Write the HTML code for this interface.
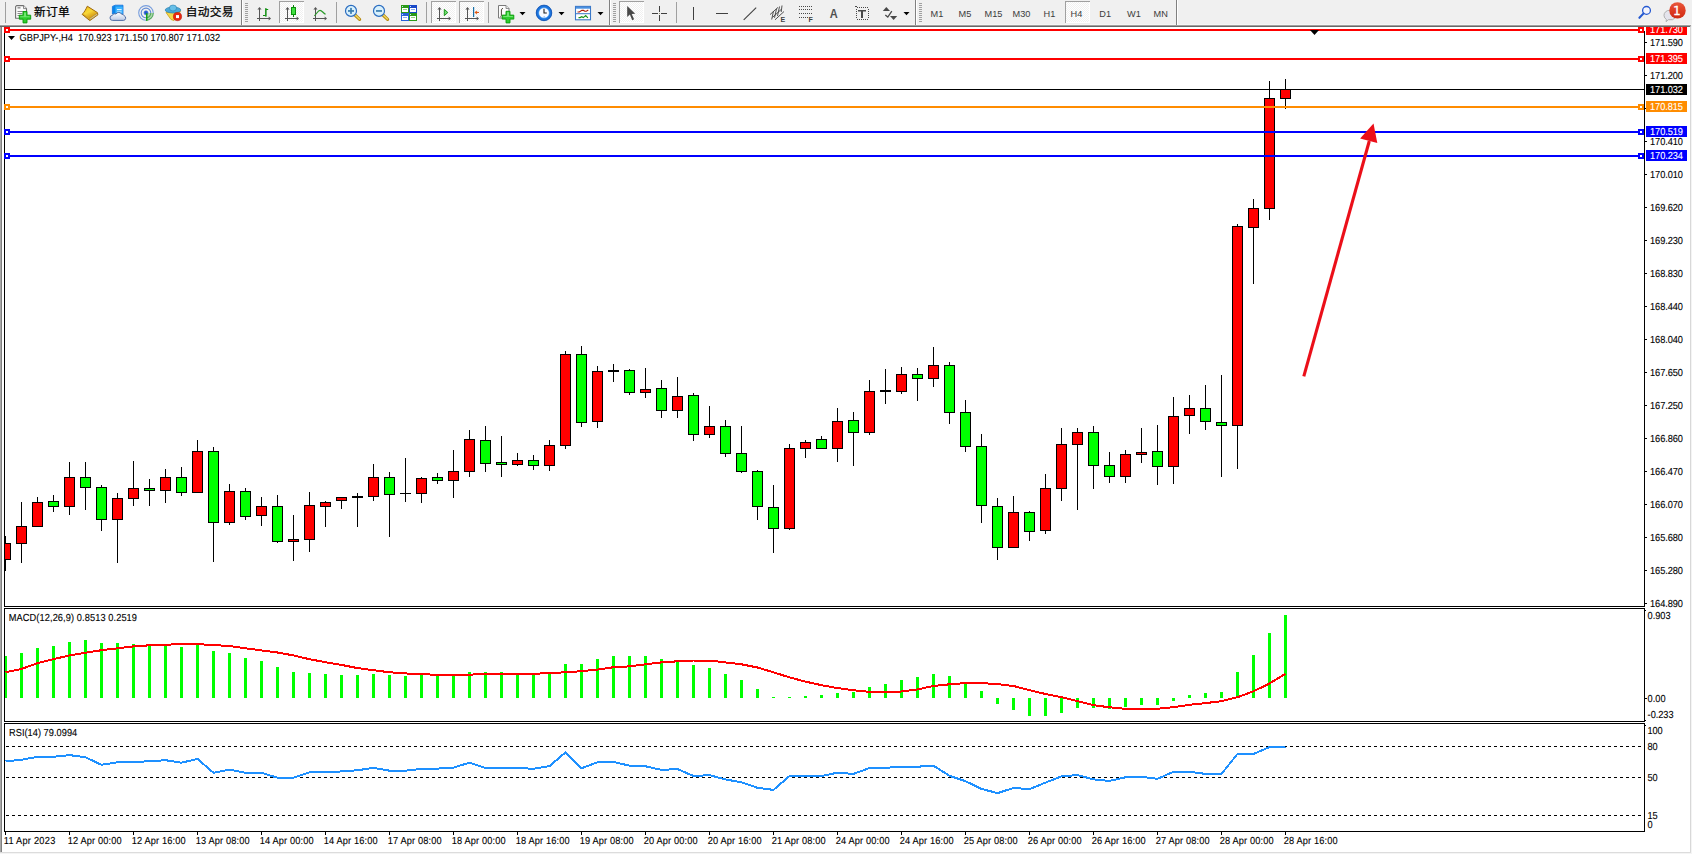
<!DOCTYPE html>
<html lang="zh-CN">
<head>
<meta charset="utf-8">
<title>GBPJPY-,H4</title>
<style>
html,body{margin:0;padding:0;background:#fff;}
body{width:1692px;height:854px;position:relative;overflow:hidden;font-family:"Liberation Sans","Noto Sans CJK SC",sans-serif;}
#tb{position:absolute;left:0;top:0;width:1692px;height:27px;}
svg text{white-space:pre;}
#chart text{text-rendering:geometricPrecision;stroke-width:0.1px;}
</style>
</head>
<body>
<svg id="chart" width="1692" height="854" viewBox="0 0 1692 854" style="position:absolute;left:0;top:0" shape-rendering="crispEdges" font-family="Liberation Sans, sans-serif" font-size="9.25px" fill="#000">
<rect x="0" y="27" width="1" height="825" fill="#a8a8a8"/><rect x="1" y="27" width="1" height="825" fill="#808080"/>
<rect x="0" y="852" width="1692" height="1" fill="#dcdcdc"/>
<rect x="0" y="853" width="1692" height="1" fill="#f4f4f4"/>
<rect x="1690" y="27" width="1" height="825" fill="#d8d8d8"/>
<rect x="1691" y="27" width="1" height="827" fill="#f4f4f4"/>
<rect x="4" y="27" width="1" height="580" fill="#000"/>
<rect x="1644" y="31" width="1" height="576" fill="#000"/>
<rect x="4" y="608" width="1" height="114" fill="#000"/>
<rect x="1644" y="608" width="1" height="114" fill="#000"/>
<rect x="4" y="723" width="1" height="109" fill="#000"/>
<rect x="1644" y="723" width="1" height="109" fill="#000"/>
<rect x="4" y="606" width="1641" height="1" fill="#000"/>
<rect x="4" y="608" width="1641" height="1" fill="#000"/>
<rect x="4" y="721" width="1641" height="1" fill="#000"/>
<rect x="4" y="723" width="1641" height="1" fill="#000"/>
<rect x="4" y="831" width="1641" height="1" fill="#000"/>
<rect x="1645" y="610" width="1" height="1" fill="#000"/>
<rect x="1645" y="720" width="1" height="1" fill="#000"/>
<rect x="1645" y="725" width="1" height="1" fill="#000"/>
<clipPath id="cp"><rect x="5" y="27" width="1639" height="579"/></clipPath>
<g clip-path="url(#cp)">
<rect x="5" y="89" width="1639" height="1" fill="#000"/>
<rect x="5" y="536" width="1" height="35" fill="#000"/>
<rect x="0" y="543" width="11" height="17" fill="#000"/>
<rect x="1" y="544" width="9" height="15" fill="#ff0000"/>
<rect x="21" y="502" width="1" height="61" fill="#000"/>
<rect x="16" y="526" width="11" height="18" fill="#000"/>
<rect x="17" y="527" width="9" height="16" fill="#ff0000"/>
<rect x="37" y="497" width="1" height="30" fill="#000"/>
<rect x="32" y="502" width="11" height="25" fill="#000"/>
<rect x="33" y="503" width="9" height="23" fill="#ff0000"/>
<rect x="53" y="495" width="1" height="17" fill="#000"/>
<rect x="48" y="501" width="11" height="6" fill="#000"/>
<rect x="49" y="502" width="9" height="4" fill="#00ff00"/>
<rect x="69" y="462" width="1" height="53" fill="#000"/>
<rect x="64" y="477" width="11" height="30" fill="#000"/>
<rect x="65" y="478" width="9" height="28" fill="#ff0000"/>
<rect x="85" y="462" width="1" height="48" fill="#000"/>
<rect x="80" y="477" width="11" height="11" fill="#000"/>
<rect x="81" y="478" width="9" height="9" fill="#00ff00"/>
<rect x="101" y="485" width="1" height="46" fill="#000"/>
<rect x="96" y="487" width="11" height="33" fill="#000"/>
<rect x="97" y="488" width="9" height="31" fill="#00ff00"/>
<rect x="117" y="493" width="1" height="70" fill="#000"/>
<rect x="112" y="498" width="11" height="22" fill="#000"/>
<rect x="113" y="499" width="9" height="20" fill="#ff0000"/>
<rect x="133" y="461" width="1" height="45" fill="#000"/>
<rect x="128" y="488" width="11" height="11" fill="#000"/>
<rect x="129" y="489" width="9" height="9" fill="#ff0000"/>
<rect x="149" y="479" width="1" height="27" fill="#000"/>
<rect x="144" y="488" width="11" height="3" fill="#000"/>
<rect x="145" y="489" width="9" height="1" fill="#00ff00"/>
<rect x="165" y="469" width="1" height="34" fill="#000"/>
<rect x="160" y="477" width="11" height="14" fill="#000"/>
<rect x="161" y="478" width="9" height="12" fill="#ff0000"/>
<rect x="181" y="467" width="1" height="29" fill="#000"/>
<rect x="176" y="477" width="11" height="16" fill="#000"/>
<rect x="177" y="478" width="9" height="14" fill="#00ff00"/>
<rect x="197" y="440" width="1" height="53" fill="#000"/>
<rect x="192" y="451" width="11" height="42" fill="#000"/>
<rect x="193" y="452" width="9" height="40" fill="#ff0000"/>
<rect x="213" y="447" width="1" height="115" fill="#000"/>
<rect x="208" y="451" width="11" height="72" fill="#000"/>
<rect x="209" y="452" width="9" height="70" fill="#00ff00"/>
<rect x="229" y="484" width="1" height="41" fill="#000"/>
<rect x="224" y="491" width="11" height="32" fill="#000"/>
<rect x="225" y="492" width="9" height="30" fill="#ff0000"/>
<rect x="245" y="488" width="1" height="32" fill="#000"/>
<rect x="240" y="491" width="11" height="26" fill="#000"/>
<rect x="241" y="492" width="9" height="24" fill="#00ff00"/>
<rect x="261" y="497" width="1" height="29" fill="#000"/>
<rect x="256" y="506" width="11" height="10" fill="#000"/>
<rect x="257" y="507" width="9" height="8" fill="#ff0000"/>
<rect x="277" y="495" width="1" height="48" fill="#000"/>
<rect x="272" y="506" width="11" height="36" fill="#000"/>
<rect x="273" y="507" width="9" height="34" fill="#00ff00"/>
<rect x="293" y="515" width="1" height="46" fill="#000"/>
<rect x="288" y="539" width="11" height="3" fill="#000"/>
<rect x="289" y="540" width="9" height="1" fill="#ff0000"/>
<rect x="309" y="492" width="1" height="60" fill="#000"/>
<rect x="304" y="505" width="11" height="35" fill="#000"/>
<rect x="305" y="506" width="9" height="33" fill="#ff0000"/>
<rect x="325" y="501" width="1" height="26" fill="#000"/>
<rect x="320" y="502" width="11" height="5" fill="#000"/>
<rect x="321" y="503" width="9" height="3" fill="#ff0000"/>
<rect x="341" y="497" width="1" height="12" fill="#000"/>
<rect x="336" y="497" width="11" height="4" fill="#000"/>
<rect x="337" y="498" width="9" height="2" fill="#ff0000"/>
<rect x="357" y="493" width="1" height="34" fill="#000"/>
<rect x="352" y="496" width="11" height="2" fill="#000"/>
<rect x="373" y="464" width="1" height="37" fill="#000"/>
<rect x="368" y="477" width="11" height="20" fill="#000"/>
<rect x="369" y="478" width="9" height="18" fill="#ff0000"/>
<rect x="389" y="472" width="1" height="65" fill="#000"/>
<rect x="384" y="477" width="11" height="18" fill="#000"/>
<rect x="385" y="478" width="9" height="16" fill="#00ff00"/>
<rect x="405" y="458" width="1" height="44" fill="#000"/>
<rect x="400" y="493" width="11" height="1" fill="#000"/>
<rect x="421" y="477" width="1" height="26" fill="#000"/>
<rect x="416" y="478" width="11" height="16" fill="#000"/>
<rect x="417" y="479" width="9" height="14" fill="#ff0000"/>
<rect x="437" y="473" width="1" height="11" fill="#000"/>
<rect x="432" y="477" width="11" height="4" fill="#000"/>
<rect x="433" y="478" width="9" height="2" fill="#00ff00"/>
<rect x="453" y="450" width="1" height="48" fill="#000"/>
<rect x="448" y="471" width="11" height="10" fill="#000"/>
<rect x="449" y="472" width="9" height="8" fill="#ff0000"/>
<rect x="469" y="430" width="1" height="47" fill="#000"/>
<rect x="464" y="439" width="11" height="33" fill="#000"/>
<rect x="465" y="440" width="9" height="31" fill="#ff0000"/>
<rect x="485" y="426" width="1" height="46" fill="#000"/>
<rect x="480" y="440" width="11" height="24" fill="#000"/>
<rect x="481" y="441" width="9" height="22" fill="#00ff00"/>
<rect x="501" y="436" width="1" height="41" fill="#000"/>
<rect x="496" y="462" width="11" height="3" fill="#000"/>
<rect x="497" y="463" width="9" height="1" fill="#00ff00"/>
<rect x="517" y="453" width="1" height="13" fill="#000"/>
<rect x="512" y="460" width="11" height="5" fill="#000"/>
<rect x="513" y="461" width="9" height="3" fill="#ff0000"/>
<rect x="533" y="455" width="1" height="15" fill="#000"/>
<rect x="528" y="460" width="11" height="6" fill="#000"/>
<rect x="529" y="461" width="9" height="4" fill="#00ff00"/>
<rect x="549" y="440" width="1" height="31" fill="#000"/>
<rect x="544" y="445" width="11" height="21" fill="#000"/>
<rect x="545" y="446" width="9" height="19" fill="#ff0000"/>
<rect x="565" y="351" width="1" height="98" fill="#000"/>
<rect x="560" y="354" width="11" height="92" fill="#000"/>
<rect x="561" y="355" width="9" height="90" fill="#ff0000"/>
<rect x="581" y="346" width="1" height="81" fill="#000"/>
<rect x="576" y="354" width="11" height="69" fill="#000"/>
<rect x="577" y="355" width="9" height="67" fill="#00ff00"/>
<rect x="597" y="366" width="1" height="62" fill="#000"/>
<rect x="592" y="371" width="11" height="51" fill="#000"/>
<rect x="593" y="372" width="9" height="49" fill="#ff0000"/>
<rect x="613" y="364" width="1" height="18" fill="#000"/>
<rect x="608" y="370" width="11" height="2" fill="#000"/>
<rect x="629" y="369" width="1" height="26" fill="#000"/>
<rect x="624" y="370" width="11" height="23" fill="#000"/>
<rect x="625" y="371" width="9" height="21" fill="#00ff00"/>
<rect x="645" y="368" width="1" height="30" fill="#000"/>
<rect x="640" y="389" width="11" height="4" fill="#000"/>
<rect x="641" y="390" width="9" height="2" fill="#ff0000"/>
<rect x="661" y="380" width="1" height="38" fill="#000"/>
<rect x="656" y="388" width="11" height="23" fill="#000"/>
<rect x="657" y="389" width="9" height="21" fill="#00ff00"/>
<rect x="677" y="377" width="1" height="41" fill="#000"/>
<rect x="672" y="396" width="11" height="15" fill="#000"/>
<rect x="673" y="397" width="9" height="13" fill="#ff0000"/>
<rect x="693" y="393" width="1" height="48" fill="#000"/>
<rect x="688" y="395" width="11" height="40" fill="#000"/>
<rect x="689" y="396" width="9" height="38" fill="#00ff00"/>
<rect x="709" y="406" width="1" height="32" fill="#000"/>
<rect x="704" y="426" width="11" height="9" fill="#000"/>
<rect x="705" y="427" width="9" height="7" fill="#ff0000"/>
<rect x="725" y="420" width="1" height="37" fill="#000"/>
<rect x="720" y="426" width="11" height="28" fill="#000"/>
<rect x="721" y="427" width="9" height="26" fill="#00ff00"/>
<rect x="741" y="426" width="1" height="47" fill="#000"/>
<rect x="736" y="453" width="11" height="19" fill="#000"/>
<rect x="737" y="454" width="9" height="17" fill="#00ff00"/>
<rect x="757" y="470" width="1" height="50" fill="#000"/>
<rect x="752" y="471" width="11" height="36" fill="#000"/>
<rect x="753" y="472" width="9" height="34" fill="#00ff00"/>
<rect x="773" y="485" width="1" height="68" fill="#000"/>
<rect x="768" y="507" width="11" height="22" fill="#000"/>
<rect x="769" y="508" width="9" height="20" fill="#00ff00"/>
<rect x="789" y="444" width="1" height="86" fill="#000"/>
<rect x="784" y="448" width="11" height="81" fill="#000"/>
<rect x="785" y="449" width="9" height="79" fill="#ff0000"/>
<rect x="805" y="440" width="1" height="18" fill="#000"/>
<rect x="800" y="442" width="11" height="7" fill="#000"/>
<rect x="801" y="443" width="9" height="5" fill="#ff0000"/>
<rect x="821" y="436" width="1" height="13" fill="#000"/>
<rect x="816" y="439" width="11" height="10" fill="#000"/>
<rect x="817" y="440" width="9" height="8" fill="#00ff00"/>
<rect x="837" y="408" width="1" height="54" fill="#000"/>
<rect x="832" y="421" width="11" height="28" fill="#000"/>
<rect x="833" y="422" width="9" height="26" fill="#ff0000"/>
<rect x="853" y="412" width="1" height="54" fill="#000"/>
<rect x="848" y="420" width="11" height="13" fill="#000"/>
<rect x="849" y="421" width="9" height="11" fill="#00ff00"/>
<rect x="869" y="380" width="1" height="55" fill="#000"/>
<rect x="864" y="391" width="11" height="42" fill="#000"/>
<rect x="865" y="392" width="9" height="40" fill="#ff0000"/>
<rect x="885" y="369" width="1" height="35" fill="#000"/>
<rect x="880" y="390" width="11" height="2" fill="#000"/>
<rect x="901" y="367" width="1" height="27" fill="#000"/>
<rect x="896" y="374" width="11" height="18" fill="#000"/>
<rect x="897" y="375" width="9" height="16" fill="#ff0000"/>
<rect x="917" y="368" width="1" height="33" fill="#000"/>
<rect x="912" y="374" width="11" height="5" fill="#000"/>
<rect x="913" y="375" width="9" height="3" fill="#00ff00"/>
<rect x="933" y="347" width="1" height="40" fill="#000"/>
<rect x="928" y="365" width="11" height="14" fill="#000"/>
<rect x="929" y="366" width="9" height="12" fill="#ff0000"/>
<rect x="949" y="362" width="1" height="62" fill="#000"/>
<rect x="944" y="365" width="11" height="48" fill="#000"/>
<rect x="945" y="366" width="9" height="46" fill="#00ff00"/>
<rect x="965" y="400" width="1" height="52" fill="#000"/>
<rect x="960" y="412" width="11" height="35" fill="#000"/>
<rect x="961" y="413" width="9" height="33" fill="#00ff00"/>
<rect x="981" y="434" width="1" height="89" fill="#000"/>
<rect x="976" y="446" width="11" height="60" fill="#000"/>
<rect x="977" y="447" width="9" height="58" fill="#00ff00"/>
<rect x="997" y="498" width="1" height="62" fill="#000"/>
<rect x="992" y="506" width="11" height="42" fill="#000"/>
<rect x="993" y="507" width="9" height="40" fill="#00ff00"/>
<rect x="1013" y="496" width="1" height="52" fill="#000"/>
<rect x="1008" y="512" width="11" height="36" fill="#000"/>
<rect x="1009" y="513" width="9" height="34" fill="#ff0000"/>
<rect x="1029" y="511" width="1" height="30" fill="#000"/>
<rect x="1024" y="512" width="11" height="20" fill="#000"/>
<rect x="1025" y="513" width="9" height="18" fill="#00ff00"/>
<rect x="1045" y="474" width="1" height="60" fill="#000"/>
<rect x="1040" y="488" width="11" height="43" fill="#000"/>
<rect x="1041" y="489" width="9" height="41" fill="#ff0000"/>
<rect x="1061" y="428" width="1" height="73" fill="#000"/>
<rect x="1056" y="444" width="11" height="45" fill="#000"/>
<rect x="1057" y="445" width="9" height="43" fill="#ff0000"/>
<rect x="1077" y="428" width="1" height="82" fill="#000"/>
<rect x="1072" y="432" width="11" height="13" fill="#000"/>
<rect x="1073" y="433" width="9" height="11" fill="#ff0000"/>
<rect x="1093" y="426" width="1" height="63" fill="#000"/>
<rect x="1088" y="432" width="11" height="34" fill="#000"/>
<rect x="1089" y="433" width="9" height="32" fill="#00ff00"/>
<rect x="1109" y="452" width="1" height="31" fill="#000"/>
<rect x="1104" y="465" width="11" height="12" fill="#000"/>
<rect x="1105" y="466" width="9" height="10" fill="#00ff00"/>
<rect x="1125" y="450" width="1" height="33" fill="#000"/>
<rect x="1120" y="454" width="11" height="23" fill="#000"/>
<rect x="1121" y="455" width="9" height="21" fill="#ff0000"/>
<rect x="1141" y="428" width="1" height="35" fill="#000"/>
<rect x="1136" y="452" width="11" height="3" fill="#000"/>
<rect x="1137" y="453" width="9" height="1" fill="#ff0000"/>
<rect x="1157" y="425" width="1" height="60" fill="#000"/>
<rect x="1152" y="451" width="11" height="16" fill="#000"/>
<rect x="1153" y="452" width="9" height="14" fill="#00ff00"/>
<rect x="1173" y="397" width="1" height="87" fill="#000"/>
<rect x="1168" y="416" width="11" height="51" fill="#000"/>
<rect x="1169" y="417" width="9" height="49" fill="#ff0000"/>
<rect x="1189" y="395" width="1" height="39" fill="#000"/>
<rect x="1184" y="408" width="11" height="8" fill="#000"/>
<rect x="1185" y="409" width="9" height="6" fill="#ff0000"/>
<rect x="1205" y="385" width="1" height="45" fill="#000"/>
<rect x="1200" y="408" width="11" height="14" fill="#000"/>
<rect x="1201" y="409" width="9" height="12" fill="#00ff00"/>
<rect x="1221" y="375" width="1" height="102" fill="#000"/>
<rect x="1216" y="422" width="11" height="4" fill="#000"/>
<rect x="1217" y="423" width="9" height="2" fill="#00ff00"/>
<rect x="1237" y="224" width="1" height="245" fill="#000"/>
<rect x="1232" y="226" width="11" height="200" fill="#000"/>
<rect x="1233" y="227" width="9" height="198" fill="#ff0000"/>
<rect x="1253" y="199" width="1" height="85" fill="#000"/>
<rect x="1248" y="208" width="11" height="20" fill="#000"/>
<rect x="1249" y="209" width="9" height="18" fill="#ff0000"/>
<rect x="1269" y="81" width="1" height="139" fill="#000"/>
<rect x="1264" y="98" width="11" height="111" fill="#000"/>
<rect x="1265" y="99" width="9" height="109" fill="#ff0000"/>
<rect x="1285" y="79" width="1" height="30" fill="#000"/>
<rect x="1280" y="89" width="11" height="10" fill="#000"/>
<rect x="1281" y="90" width="9" height="8" fill="#ff0000"/>
</g>
<rect x="5" y="29" width="1639" height="2" fill="#ff0000"/><rect x="4" y="27" width="6" height="6" fill="#ff0000"/><rect x="6" y="29" width="2" height="2" fill="#fff"/><rect x="1638" y="27" width="6" height="6" fill="#ff0000"/><rect x="1640" y="29" width="2" height="2" fill="#fff"/>
<rect x="5" y="58" width="1639" height="2" fill="#ff0000"/><rect x="4" y="56" width="6" height="6" fill="#ff0000"/><rect x="6" y="58" width="2" height="2" fill="#fff"/><rect x="1638" y="56" width="6" height="6" fill="#ff0000"/><rect x="1640" y="58" width="2" height="2" fill="#fff"/>
<rect x="5" y="106" width="1639" height="2" fill="#ff8c00"/><rect x="4" y="104" width="6" height="6" fill="#ff8c00"/><rect x="6" y="106" width="2" height="2" fill="#fff"/><rect x="1638" y="104" width="6" height="6" fill="#ff8c00"/><rect x="1640" y="106" width="2" height="2" fill="#fff"/>
<rect x="5" y="131" width="1639" height="2" fill="#0000ff"/><rect x="4" y="129" width="6" height="6" fill="#0000ff"/><rect x="6" y="131" width="2" height="2" fill="#fff"/><rect x="1638" y="129" width="6" height="6" fill="#0000ff"/><rect x="1640" y="131" width="2" height="2" fill="#fff"/>
<rect x="5" y="155" width="1639" height="2" fill="#0000ff"/><rect x="4" y="153" width="6" height="6" fill="#0000ff"/><rect x="6" y="155" width="2" height="2" fill="#fff"/><rect x="1638" y="153" width="6" height="6" fill="#0000ff"/><rect x="1640" y="155" width="2" height="2" fill="#fff"/>
<rect x="1644" y="33" width="1" height="23" fill="#000"/>
<polygon points="1310,30 1319,30 1314.5,35" fill="#000" shape-rendering="auto"/>
<rect x="1645" y="42" width="2" height="1" fill="#000"/>
<text transform="translate(1650.0 46) scale(1 1.0995)" textLength="33" lengthAdjust="spacing" stroke="#000">171.590</text>
<rect x="1645" y="75" width="2" height="1" fill="#000"/>
<text transform="translate(1650.0 79) scale(1 1.0995)" textLength="33" lengthAdjust="spacing" stroke="#000">171.200</text>
<rect x="1645" y="108" width="2" height="1" fill="#000"/>
<rect x="1645" y="141" width="2" height="1" fill="#000"/>
<text transform="translate(1650.0 145) scale(1 1.0995)" textLength="33" lengthAdjust="spacing" stroke="#000">170.410</text>
<rect x="1645" y="174" width="2" height="1" fill="#000"/>
<text transform="translate(1650.0 178) scale(1 1.0995)" textLength="33" lengthAdjust="spacing" stroke="#000">170.010</text>
<rect x="1645" y="207" width="2" height="1" fill="#000"/>
<text transform="translate(1650.0 211) scale(1 1.0995)" textLength="33" lengthAdjust="spacing" stroke="#000">169.620</text>
<rect x="1645" y="240" width="2" height="1" fill="#000"/>
<text transform="translate(1650.0 244) scale(1 1.0995)" textLength="33" lengthAdjust="spacing" stroke="#000">169.230</text>
<rect x="1645" y="273" width="2" height="1" fill="#000"/>
<text transform="translate(1650.0 277) scale(1 1.0995)" textLength="33" lengthAdjust="spacing" stroke="#000">168.830</text>
<rect x="1645" y="306" width="2" height="1" fill="#000"/>
<text transform="translate(1650.0 310) scale(1 1.0995)" textLength="33" lengthAdjust="spacing" stroke="#000">168.440</text>
<rect x="1645" y="339" width="2" height="1" fill="#000"/>
<text transform="translate(1650.0 343) scale(1 1.0995)" textLength="33" lengthAdjust="spacing" stroke="#000">168.040</text>
<rect x="1645" y="372" width="2" height="1" fill="#000"/>
<text transform="translate(1650.0 376) scale(1 1.0995)" textLength="33" lengthAdjust="spacing" stroke="#000">167.650</text>
<rect x="1645" y="405" width="2" height="1" fill="#000"/>
<text transform="translate(1650.0 409) scale(1 1.0995)" textLength="33" lengthAdjust="spacing" stroke="#000">167.250</text>
<rect x="1645" y="438" width="2" height="1" fill="#000"/>
<text transform="translate(1650.0 442) scale(1 1.0995)" textLength="33" lengthAdjust="spacing" stroke="#000">166.860</text>
<rect x="1645" y="471" width="2" height="1" fill="#000"/>
<text transform="translate(1650.0 475) scale(1 1.0995)" textLength="33" lengthAdjust="spacing" stroke="#000">166.470</text>
<rect x="1645" y="504" width="2" height="1" fill="#000"/>
<text transform="translate(1650.0 508) scale(1 1.0995)" textLength="33" lengthAdjust="spacing" stroke="#000">166.070</text>
<rect x="1645" y="537" width="2" height="1" fill="#000"/>
<text transform="translate(1650.0 541) scale(1 1.0995)" textLength="33" lengthAdjust="spacing" stroke="#000">165.680</text>
<rect x="1645" y="570" width="2" height="1" fill="#000"/>
<text transform="translate(1650.0 574) scale(1 1.0995)" textLength="33" lengthAdjust="spacing" stroke="#000">165.280</text>
<rect x="1645" y="603" width="2" height="1" fill="#000"/>
<text transform="translate(1650.0 607) scale(1 1.0995)" textLength="33" lengthAdjust="spacing" stroke="#000">164.890</text>
<clipPath id="cp2"><rect x="1645" y="27" width="47" height="600"/></clipPath><g clip-path="url(#cp2)">
<rect x="1646" y="24" width="41" height="11" fill="#ff0000"/><text transform="translate(1650.0 33) scale(1 1.0995)" textLength="33" lengthAdjust="spacing" fill="#fff" stroke="#fff">171.730</text>
<rect x="1646" y="53" width="41" height="11" fill="#ff0000"/><text transform="translate(1650.0 62) scale(1 1.0995)" textLength="33" lengthAdjust="spacing" fill="#fff" stroke="#fff">171.395</text>
<rect x="1646" y="84" width="41" height="11" fill="#000"/><text transform="translate(1650.0 93) scale(1 1.0995)" textLength="33" lengthAdjust="spacing" fill="#fff" stroke="#fff">171.032</text>
<rect x="1646" y="101" width="41" height="11" fill="#ff8c00"/><text transform="translate(1650.0 110) scale(1 1.0995)" textLength="33" lengthAdjust="spacing" fill="#fff" stroke="#fff">170.815</text>
<rect x="1646" y="126" width="41" height="11" fill="#0000ff"/><text transform="translate(1650.0 135) scale(1 1.0995)" textLength="33" lengthAdjust="spacing" fill="#fff" stroke="#fff">170.519</text>
<rect x="1646" y="150" width="41" height="11" fill="#0000ff"/><text transform="translate(1650.0 159) scale(1 1.0995)" textLength="33" lengthAdjust="spacing" fill="#fff" stroke="#fff">170.234</text>
</g>
<polygon points="8,36 15,36 11.5,40" fill="#000" shape-rendering="auto"/>
<text transform="translate(19.6 41) scale(1 1.0995)" textLength="200.6" lengthAdjust="spacing" stroke="#000">GBPJPY-,H4&#160;&#160;170.923 171.150 170.807 171.032</text>
<text transform="translate(8.8 621) scale(1 1.0995)" textLength="128.2" lengthAdjust="spacing" stroke="#000">MACD(12,26,9) 0.8513 0.2519</text>
<text transform="translate(9 736) scale(1 1.0995)" textLength="68.2" lengthAdjust="spacing" stroke="#000">RSI(14) 79.0994</text>
<rect x="5" y="656" width="2" height="42" fill="#00ff00"/>
<rect x="20" y="653" width="3" height="45" fill="#00ff00"/>
<rect x="36" y="648" width="3" height="50" fill="#00ff00"/>
<rect x="52" y="646" width="3" height="52" fill="#00ff00"/>
<rect x="68" y="642" width="3" height="56" fill="#00ff00"/>
<rect x="84" y="640" width="3" height="58" fill="#00ff00"/>
<rect x="100" y="643" width="3" height="55" fill="#00ff00"/>
<rect x="116" y="643" width="3" height="55" fill="#00ff00"/>
<rect x="132" y="644" width="3" height="54" fill="#00ff00"/>
<rect x="148" y="644" width="3" height="54" fill="#00ff00"/>
<rect x="164" y="645" width="3" height="53" fill="#00ff00"/>
<rect x="180" y="647" width="3" height="51" fill="#00ff00"/>
<rect x="196" y="645" width="3" height="53" fill="#00ff00"/>
<rect x="212" y="651" width="3" height="47" fill="#00ff00"/>
<rect x="228" y="653" width="3" height="45" fill="#00ff00"/>
<rect x="244" y="658" width="3" height="40" fill="#00ff00"/>
<rect x="260" y="661" width="3" height="37" fill="#00ff00"/>
<rect x="276" y="667" width="3" height="31" fill="#00ff00"/>
<rect x="292" y="672" width="3" height="26" fill="#00ff00"/>
<rect x="308" y="673" width="3" height="25" fill="#00ff00"/>
<rect x="324" y="674" width="3" height="24" fill="#00ff00"/>
<rect x="340" y="675" width="3" height="23" fill="#00ff00"/>
<rect x="356" y="675" width="3" height="23" fill="#00ff00"/>
<rect x="372" y="674" width="3" height="24" fill="#00ff00"/>
<rect x="388" y="675" width="3" height="23" fill="#00ff00"/>
<rect x="404" y="676" width="3" height="22" fill="#00ff00"/>
<rect x="420" y="675" width="3" height="23" fill="#00ff00"/>
<rect x="436" y="676" width="3" height="22" fill="#00ff00"/>
<rect x="452" y="676" width="3" height="22" fill="#00ff00"/>
<rect x="468" y="672" width="3" height="26" fill="#00ff00"/>
<rect x="484" y="672" width="3" height="26" fill="#00ff00"/>
<rect x="500" y="672" width="3" height="26" fill="#00ff00"/>
<rect x="516" y="674" width="3" height="24" fill="#00ff00"/>
<rect x="532" y="674" width="3" height="24" fill="#00ff00"/>
<rect x="548" y="673" width="3" height="25" fill="#00ff00"/>
<rect x="564" y="664" width="3" height="34" fill="#00ff00"/>
<rect x="580" y="664" width="3" height="34" fill="#00ff00"/>
<rect x="596" y="659" width="3" height="39" fill="#00ff00"/>
<rect x="612" y="656" width="3" height="42" fill="#00ff00"/>
<rect x="628" y="656" width="3" height="42" fill="#00ff00"/>
<rect x="644" y="656" width="3" height="42" fill="#00ff00"/>
<rect x="660" y="659" width="3" height="39" fill="#00ff00"/>
<rect x="676" y="660" width="3" height="38" fill="#00ff00"/>
<rect x="692" y="665" width="3" height="33" fill="#00ff00"/>
<rect x="708" y="668" width="3" height="30" fill="#00ff00"/>
<rect x="724" y="674" width="3" height="24" fill="#00ff00"/>
<rect x="740" y="680" width="3" height="18" fill="#00ff00"/>
<rect x="756" y="689" width="3" height="9" fill="#00ff00"/>
<rect x="772" y="697" width="3" height="1" fill="#00ff00"/>
<rect x="788" y="697" width="3" height="1" fill="#00ff00"/>
<rect x="804" y="696" width="3" height="2" fill="#00ff00"/>
<rect x="820" y="695" width="3" height="3" fill="#00ff00"/>
<rect x="836" y="693" width="3" height="5" fill="#00ff00"/>
<rect x="852" y="692" width="3" height="6" fill="#00ff00"/>
<rect x="868" y="687" width="3" height="11" fill="#00ff00"/>
<rect x="884" y="684" width="3" height="14" fill="#00ff00"/>
<rect x="900" y="680" width="3" height="18" fill="#00ff00"/>
<rect x="916" y="677" width="3" height="21" fill="#00ff00"/>
<rect x="932" y="674" width="3" height="24" fill="#00ff00"/>
<rect x="948" y="676" width="3" height="22" fill="#00ff00"/>
<rect x="964" y="682" width="3" height="16" fill="#00ff00"/>
<rect x="980" y="691" width="3" height="7" fill="#00ff00"/>
<rect x="996" y="698" width="3" height="6" fill="#00ff00"/>
<rect x="1012" y="698" width="3" height="12" fill="#00ff00"/>
<rect x="1028" y="698" width="3" height="18" fill="#00ff00"/>
<rect x="1044" y="698" width="3" height="18" fill="#00ff00"/>
<rect x="1060" y="698" width="3" height="15" fill="#00ff00"/>
<rect x="1076" y="698" width="3" height="10" fill="#00ff00"/>
<rect x="1092" y="698" width="3" height="10" fill="#00ff00"/>
<rect x="1108" y="698" width="3" height="11" fill="#00ff00"/>
<rect x="1124" y="698" width="3" height="9" fill="#00ff00"/>
<rect x="1140" y="698" width="3" height="7" fill="#00ff00"/>
<rect x="1156" y="698" width="3" height="7" fill="#00ff00"/>
<rect x="1172" y="698" width="3" height="3" fill="#00ff00"/>
<rect x="1188" y="695" width="3" height="3" fill="#00ff00"/>
<rect x="1204" y="693" width="3" height="5" fill="#00ff00"/>
<rect x="1220" y="692" width="3" height="6" fill="#00ff00"/>
<rect x="1236" y="672" width="3" height="26" fill="#00ff00"/>
<rect x="1252" y="655" width="3" height="43" fill="#00ff00"/>
<rect x="1268" y="633" width="3" height="65" fill="#00ff00"/>
<rect x="1284" y="615" width="3" height="83" fill="#00ff00"/>
<polyline points="5.5,672.3 21.5,668.9 37.5,663.2 53.5,659.2 69.5,655.4 85.5,652.7 101.5,650.2 117.5,648.3 133.5,646.4 149.5,645.3 165.5,644.7 181.5,644.1 197.5,644.1 213.5,645.1 229.5,646.0 245.5,648.3 261.5,650.4 277.5,652.5 293.5,655.4 309.5,659.2 325.5,662.2 341.5,664.9 357.5,668.1 373.5,670.2 389.5,672.3 405.5,673.4 421.5,674.4 437.5,674.6 453.5,674.6 469.5,674.6 485.5,674.2 501.5,673.8 517.5,673.8 533.5,673.8 549.5,673.1 565.5,672.3 581.5,671.2 597.5,669.6 613.5,667.2 629.5,666.4 645.5,664.3 661.5,662.4 677.5,661.3 693.5,660.5 709.5,660.5 725.5,662.4 741.5,664.3 757.5,667.5 773.5,672.3 789.5,677.4 805.5,681.6 821.5,685.2 837.5,688.1 853.5,690.2 869.5,691.9 885.5,691.9 901.5,691.5 917.5,689.4 933.5,686.0 949.5,684.3 965.5,683.1 981.5,683.1 997.5,684.1 1013.5,686.0 1029.5,690.2 1045.5,694.0 1061.5,697.2 1077.5,701.2 1093.5,705.2 1109.5,707.3 1125.5,708.8 1141.5,708.8 1157.5,708.8 1173.5,707.1 1189.5,704.8 1205.5,703.1 1221.5,701.2 1237.5,697.2 1253.5,691.3 1269.5,683.5 1285.5,673.8" fill="none" stroke="#ff0000" stroke-width="2"/>
<text transform="translate(1647.6 619) scale(1 1.0995)" textLength="23" lengthAdjust="spacing" stroke="#000">0.903</text>
<rect x="1645" y="698" width="2" height="1" fill="#000"/>
<text transform="translate(1647.6 702) scale(1 1.0995)" textLength="18" lengthAdjust="spacing" stroke="#000">0.00</text>
<text transform="translate(1647.6 718) scale(1 1.0995)" textLength="26" lengthAdjust="spacing" stroke="#000">-0.233</text>
<line x1="6" y1="746.5" x2="1642" y2="746.5" stroke="#000" stroke-width="1" stroke-dasharray="3 3"/>
<line x1="6" y1="777.5" x2="1642" y2="777.5" stroke="#000" stroke-width="1" stroke-dasharray="3 3"/>
<line x1="6" y1="815.5" x2="1642" y2="815.5" stroke="#000" stroke-width="1" stroke-dasharray="3 3"/>
<polyline points="5.5,761.3 21.5,759.8 37.5,756.8 53.5,756.8 69.5,755.1 85.5,757.3 101.5,764.8 117.5,762.3 133.5,761.9 149.5,761.3 165.5,760.2 181.5,762.7 197.5,758.9 213.5,772.8 229.5,769.7 245.5,772.8 261.5,772.8 277.5,777.7 293.5,777.7 309.5,772.4 325.5,772.4 341.5,771.4 357.5,770.3 373.5,767.8 389.5,770.7 405.5,770.7 421.5,768.8 437.5,768.6 453.5,767.6 469.5,762.7 485.5,768.0 501.5,768.0 517.5,768.0 533.5,768.8 549.5,766.1 565.5,752.4 581.5,768.2 597.5,762.3 613.5,761.9 629.5,765.7 645.5,766.3 661.5,769.9 677.5,769.1 693.5,776.0 709.5,775.2 725.5,779.4 741.5,782.3 757.5,787.8 773.5,789.9 789.5,776.0 805.5,776.0 821.5,776.0 837.5,772.7 853.5,773.9 869.5,768.0 885.5,767.8 901.5,766.7 917.5,766.7 933.5,765.7 949.5,775.8 965.5,781.2 981.5,788.9 997.5,793.1 1013.5,788.0 1029.5,789.1 1045.5,782.6 1061.5,776.4 1077.5,775.0 1093.5,779.4 1109.5,780.9 1125.5,777.3 1141.5,776.9 1157.5,778.8 1173.5,771.8 1189.5,771.8 1205.5,773.9 1221.5,773.9 1237.5,753.9 1253.5,753.9 1269.5,747.1 1285.5,746.7" fill="none" stroke="#1e90ff" stroke-width="2"/>
<text transform="translate(1647.6 734) scale(1 1.0995)" textLength="15" lengthAdjust="spacing" stroke="#000">100</text>
<text transform="translate(1647.6 750) scale(1 1.0995)" textLength="10" lengthAdjust="spacing" stroke="#000">80</text>
<text transform="translate(1647.6 781) scale(1 1.0995)" textLength="10" lengthAdjust="spacing" stroke="#000">50</text>
<text transform="translate(1647.6 819) scale(1 1.0995)" textLength="10" lengthAdjust="spacing" stroke="#000">15</text>
<text transform="translate(1647.6 828) scale(1 1.0995)" textLength="5" lengthAdjust="spacing" stroke="#000">0</text>
<rect x="5" y="832" width="1" height="3" fill="#000"/>
<text transform="translate(3.7 844) scale(1 1.0995)" textLength="51.6" lengthAdjust="spacing" stroke="#000">11 Apr 2023</text>
<rect x="69" y="832" width="1" height="3" fill="#000"/>
<text transform="translate(67.7 844) scale(1 1.0995)" textLength="54" lengthAdjust="spacing" stroke="#000">12 Apr 00:00</text>
<rect x="133" y="832" width="1" height="3" fill="#000"/>
<text transform="translate(131.7 844) scale(1 1.0995)" textLength="54" lengthAdjust="spacing" stroke="#000">12 Apr 16:00</text>
<rect x="197" y="832" width="1" height="3" fill="#000"/>
<text transform="translate(195.7 844) scale(1 1.0995)" textLength="54" lengthAdjust="spacing" stroke="#000">13 Apr 08:00</text>
<rect x="261" y="832" width="1" height="3" fill="#000"/>
<text transform="translate(259.7 844) scale(1 1.0995)" textLength="54" lengthAdjust="spacing" stroke="#000">14 Apr 00:00</text>
<rect x="325" y="832" width="1" height="3" fill="#000"/>
<text transform="translate(323.7 844) scale(1 1.0995)" textLength="54" lengthAdjust="spacing" stroke="#000">14 Apr 16:00</text>
<rect x="389" y="832" width="1" height="3" fill="#000"/>
<text transform="translate(387.7 844) scale(1 1.0995)" textLength="54" lengthAdjust="spacing" stroke="#000">17 Apr 08:00</text>
<rect x="453" y="832" width="1" height="3" fill="#000"/>
<text transform="translate(451.7 844) scale(1 1.0995)" textLength="54" lengthAdjust="spacing" stroke="#000">18 Apr 00:00</text>
<rect x="517" y="832" width="1" height="3" fill="#000"/>
<text transform="translate(515.7 844) scale(1 1.0995)" textLength="54" lengthAdjust="spacing" stroke="#000">18 Apr 16:00</text>
<rect x="581" y="832" width="1" height="3" fill="#000"/>
<text transform="translate(579.7 844) scale(1 1.0995)" textLength="54" lengthAdjust="spacing" stroke="#000">19 Apr 08:00</text>
<rect x="645" y="832" width="1" height="3" fill="#000"/>
<text transform="translate(643.7 844) scale(1 1.0995)" textLength="54" lengthAdjust="spacing" stroke="#000">20 Apr 00:00</text>
<rect x="709" y="832" width="1" height="3" fill="#000"/>
<text transform="translate(707.7 844) scale(1 1.0995)" textLength="54" lengthAdjust="spacing" stroke="#000">20 Apr 16:00</text>
<rect x="773" y="832" width="1" height="3" fill="#000"/>
<text transform="translate(771.7 844) scale(1 1.0995)" textLength="54" lengthAdjust="spacing" stroke="#000">21 Apr 08:00</text>
<rect x="837" y="832" width="1" height="3" fill="#000"/>
<text transform="translate(835.7 844) scale(1 1.0995)" textLength="54" lengthAdjust="spacing" stroke="#000">24 Apr 00:00</text>
<rect x="901" y="832" width="1" height="3" fill="#000"/>
<text transform="translate(899.7 844) scale(1 1.0995)" textLength="54" lengthAdjust="spacing" stroke="#000">24 Apr 16:00</text>
<rect x="965" y="832" width="1" height="3" fill="#000"/>
<text transform="translate(963.7 844) scale(1 1.0995)" textLength="54" lengthAdjust="spacing" stroke="#000">25 Apr 08:00</text>
<rect x="1029" y="832" width="1" height="3" fill="#000"/>
<text transform="translate(1027.7 844) scale(1 1.0995)" textLength="54" lengthAdjust="spacing" stroke="#000">26 Apr 00:00</text>
<rect x="1093" y="832" width="1" height="3" fill="#000"/>
<text transform="translate(1091.7 844) scale(1 1.0995)" textLength="54" lengthAdjust="spacing" stroke="#000">26 Apr 16:00</text>
<rect x="1157" y="832" width="1" height="3" fill="#000"/>
<text transform="translate(1155.7 844) scale(1 1.0995)" textLength="54" lengthAdjust="spacing" stroke="#000">27 Apr 08:00</text>
<rect x="1221" y="832" width="1" height="3" fill="#000"/>
<text transform="translate(1219.7 844) scale(1 1.0995)" textLength="54" lengthAdjust="spacing" stroke="#000">28 Apr 00:00</text>
<rect x="1285" y="832" width="1" height="3" fill="#000"/>
<text transform="translate(1283.7 844) scale(1 1.0995)" textLength="54" lengthAdjust="spacing" stroke="#000">28 Apr 16:00</text>
<g shape-rendering="auto">
<line x1="1303.8" y1="376.3" x2="1369.3" y2="141" stroke="#eb0f19" stroke-width="3.1" stroke-linecap="butt"/>
<polygon points="1373.5,123.6 1360.1,138.6 1377.3,142.9" fill="#eb0f19"/>
</g>
</svg>
<svg id="tb" width="1692" height="27" viewBox="0 0 1692 27" shape-rendering="crispEdges" font-family="Liberation Sans, Noto Sans CJK SC, sans-serif">
<defs><pattern id="chk" width="2" height="2" patternUnits="userSpaceOnUse"><rect width="2" height="2" fill="#ffffff"/><rect width="1" height="1" fill="#f0f0f0"/><rect x="1" y="1" width="1" height="1" fill="#f0f0f0"/></pattern></defs>
<rect x="0" y="0" width="1692" height="25" fill="#f0f0f0"/>
<rect x="0" y="24" width="1692" height="1" fill="#f6f6f6"/>
<rect x="0" y="25" width="1691" height="1" fill="#a0a0a0"/>
<rect x="0" y="26" width="1690" height="1" fill="#686868"/>
<rect x="1691" y="25" width="1" height="2" fill="#f0f0f0"/><rect x="1690" y="26" width="1" height="1" fill="#c0c0c0"/>
<rect x="5" y="2" width="1" height="21" fill="#a0a0a0"/>
<g shape-rendering="auto">
<path d="M16.6,5.6 h6.9 l3,3 v9.6 h-10.9 v-11.6 z" fill="#fcfcfc" stroke="#707070" stroke-width="1.1" stroke-linejoin="round"/>
<path d="M23.5,5.6 v3 h3" fill="#e8e8e8" stroke="#707070" stroke-width="0.8"/>
<rect x="17.5" y="7" width="3" height="1.6" fill="#9a9a9a"/>
<rect x="17.5" y="11" width="6" height="1" fill="#8a8a8a"/><rect x="17.5" y="13" width="5" height="1" fill="#8a8a8a"/>
<rect x="17.5" y="15" width="4" height="1" fill="#8a8a8a"/>
<path d="M23,11.5 h4 v3.7 h3.7 v4 h-3.7 v3.7 h-4 v-3.7 h-3.7 v-4 h3.7 z" fill="#2ecc2e" stroke="#0a9a0a" stroke-width="0.9"/>
<path d="M24,12.5 h2 v4 h-2 z M20.3,16.2 h9.4 v1 h-9.4z" fill="#8df08d" opacity="0.7"/>
</g>
<text x="34" y="16.2" font-size="11.7px" letter-spacing="0.3" fill="#000" stroke="#000" stroke-width="0.25">新订单</text>
<g shape-rendering="auto">
<defs><linearGradient id="gm" x1="0" y1="0" x2="0.6" y2="1"><stop offset="0" stop-color="#f4c418"/><stop offset="0.5" stop-color="#f8d838"/><stop offset="1" stop-color="#d09010"/></linearGradient></defs>
<path d="M87.3,6.2 L97.4,12.6 L97.9,14.8 L89.8,20.6 L82.2,14.4 C84.5,12 86,9 87.3,6.2 Z" fill="#d8a828" stroke="#a06a0a" stroke-width="1" stroke-linejoin="round"/>
<path d="M87.6,7.2 L96.6,12.8 L89.6,18.2 L83.2,13.8 C85.2,11.6 86.6,9.4 87.6,7.2 Z" fill="url(#gm)"/>
<path d="M89.7,18.6 L97,13.4 L97.5,14.7 L89.9,20 Z" fill="#d8d0a0" stroke="#a06a0a" stroke-width="0.4"/>
</g>
<g shape-rendering="auto">
<path d="M112.4,6.4 L115.2,5.2 H123 V14 H112.4 Z" fill="#1c9cf4" stroke="#1470dc" stroke-width="0.8" stroke-linejoin="round"/>
<path d="M115.6,6.8 H122.6 V14 H115.6 Z" fill="#40b4ff"/>
<path d="M112.8,6.8 L115.2,5.8 V14 H112.8 Z" fill="#0c84e8"/>
<rect x="117" y="9" width="4.6" height="1.1" fill="#e4f4ff"/><rect x="117" y="11.4" width="4.6" height="1" fill="#c8e8ff"/>
<defs><linearGradient id="gc" x1="0" y1="0" x2="0" y2="1"><stop offset="0" stop-color="#ffffff"/><stop offset="1" stop-color="#bccae4"/></linearGradient></defs>
<path d="M112.6,20.4 a2.5,2.5 0 0 1 -0.2,-5 a2.6,2.6 0 0 1 3.6,-1.4 a3.2,3.2 0 0 1 5.6,0.2 a2.4,2.4 0 0 1 2.6,1.6 a2.4,2.4 0 0 1 -0.6,4.6 z" fill="url(#gc)" stroke="#40609c" stroke-width="0.9"/>
</g>
<g shape-rendering="auto" fill="none">
<path d="M146,20.2 A7.3,7.3 0 1 1 153.3,13" stroke="#5a8ad8" stroke-width="1.1" opacity="0.8"/>
<path d="M146,17.7 A4.8,4.8 0 1 1 150.8,13" stroke="#4878d0" stroke-width="1.1" opacity="0.85"/>
<path d="M146,13 L153.6,13 A7.6,7.6 0 0 1 146,20.6 Z" fill="#58b858" opacity="0.45"/>
<path d="M153.3,13 A7.3,7.3 0 0 1 146,20.3" stroke="#3c9c48" stroke-width="1.1" opacity="0.8"/>
<path d="M150.8,13 A4.8,4.8 0 0 1 146,17.8" stroke="#3c9c48" stroke-width="1.1" opacity="0.8"/>
<circle cx="146" cy="12.8" r="2" fill="#2454cc" stroke="#4078dc" stroke-width="0.7"/>
<rect x="146" y="13.2" width="1.5" height="7.6" fill="#18a018"/>
</g>
<g shape-rendering="auto">
<path d="M166,12.5 L180.5,11.5 L174,20.5 L171,19.5 Z" fill="#f4d848" stroke="#c8a018" stroke-width="0.8"/>
<ellipse cx="173" cy="10" rx="7.8" ry="3" fill="#48a8d8" stroke="#2880b0" stroke-width="0.7"/>
<ellipse cx="173" cy="8" rx="3.6" ry="3" fill="#68c0e8" stroke="#2880b0" stroke-width="0.6"/>
<circle cx="177.5" cy="16.6" r="4.1" fill="#e82810" stroke="#b81808" stroke-width="0.6"/>
<rect x="176" y="15.1" width="3" height="3" fill="#fff"/>
</g>
<text x="185.7" y="16.2" font-size="11.7px" letter-spacing="0.3" fill="#000" stroke="#000" stroke-width="0.25">自动交易</text>
<rect x="241" y="0" width="1" height="25" fill="#808080"/><rect x="242" y="0" width="1" height="25" fill="#ffffff"/><rect x="245" y="3" width="3" height="1" fill="#a0a0a0"/><rect x="245" y="5" width="3" height="1" fill="#a0a0a0"/><rect x="245" y="7" width="3" height="1" fill="#a0a0a0"/><rect x="245" y="9" width="3" height="1" fill="#a0a0a0"/><rect x="245" y="11" width="3" height="1" fill="#a0a0a0"/><rect x="245" y="13" width="3" height="1" fill="#a0a0a0"/><rect x="245" y="15" width="3" height="1" fill="#a0a0a0"/><rect x="245" y="17" width="3" height="1" fill="#a0a0a0"/><rect x="245" y="19" width="3" height="1" fill="#a0a0a0"/><rect x="245" y="21" width="3" height="1" fill="#a0a0a0"/>
<rect x="259" y="8" width="1" height="13" fill="#555"/><rect x="257" y="18" width="13" height="1" fill="#555"/><polygon points="257.4,9.4 259.5,6.9 261.6,9.4" fill="#555" shape-rendering="auto"/><polygon points="268.7,16.6 271,18.5 268.7,20.4" fill="#555" shape-rendering="auto"/>
<g>
<rect x="265.1" y="8.2" width="1.5" height="8.4" fill="#109010" shape-rendering="auto"/>
<rect x="266" y="9" width="2.2" height="1" fill="#109010" shape-rendering="auto"/><rect x="263" y="15" width="2.4" height="1" fill="#109010" shape-rendering="auto"/>
</g>
<rect x="279" y="1" width="25" height="22" fill="url(#chk)"/><rect x="279" y="1" width="25" height="1" fill="#a0a0a0"/><rect x="279" y="1" width="1" height="22" fill="#a0a0a0"/><rect x="280" y="22" width="24" height="1" fill="#ffffff"/><rect x="303" y="2" width="1" height="21" fill="#ffffff"/>
<rect x="287" y="8" width="1" height="13" fill="#555"/><rect x="285" y="18" width="13" height="1" fill="#555"/><polygon points="285.4,9.4 287.5,6.9 289.6,9.4" fill="#555" shape-rendering="auto"/><polygon points="296.7,16.6 299,18.5 296.7,20.4" fill="#555" shape-rendering="auto"/>
<g>
<rect x="293" y="5" width="1" height="12" fill="#0a800a"/>
<rect x="291" y="7" width="5" height="8" fill="#0a900a"/>
<rect x="292" y="8" width="3" height="6" fill="#40e040"/>
</g>
<rect x="315" y="8" width="1" height="13" fill="#555"/><rect x="313" y="18" width="13" height="1" fill="#555"/><polygon points="313.4,9.4 315.5,6.9 317.6,9.4" fill="#555" shape-rendering="auto"/><polygon points="324.7,16.6 327,18.5 324.7,20.4" fill="#555" shape-rendering="auto"/>
<g shape-rendering="auto">
<path d="M314.3,15.7 C316.5,14.5 317.8,10.3 320,10.3 C322,10.3 323.5,13.5 325.6,14.2" fill="none" stroke="#2a9a2a" stroke-width="1.2"/>
</g>
<rect x="336" y="2" width="1" height="21" fill="#a0a0a0"/>
<g shape-rendering="auto"><path d="M355,15 L359.6,19.3" stroke="#b88a10" stroke-width="3.2" stroke-linecap="round"/><path d="M355.2,15 L359.4,19" stroke="#f0d860" stroke-width="1.4" stroke-linecap="round"/><circle cx="351" cy="10.9" r="5.5" fill="#d8f0fc" stroke="#2a6cc0" stroke-width="1.2"/><rect x="348" y="10.1" width="6" height="1.7" fill="#3a7cb0"/><rect x="350.15" y="7.9" width="1.7" height="6" fill="#3a7cb0"/></g>
<g shape-rendering="auto"><path d="M383,15 L387.6,19.3" stroke="#b88a10" stroke-width="3.2" stroke-linecap="round"/><path d="M383.2,15 L387.4,19" stroke="#f0d860" stroke-width="1.4" stroke-linecap="round"/><circle cx="379" cy="10.9" r="5.5" fill="#d8f0fc" stroke="#2a6cc0" stroke-width="1.2"/><rect x="376" y="10.1" width="6" height="1.7" fill="#3a7cb0"/></g>
<g><rect x="401" y="5" width="8" height="8" fill="#2a9a18"/><rect x="402" y="8" width="6" height="4" fill="#fff"/><rect x="403" y="9" width="4" height="1" fill="#90d080"/><rect x="402" y="6" width="1" height="1" fill="#c8e0ff"/><rect x="409" y="5" width="8" height="8" fill="#1848c8"/><rect x="410" y="8" width="6" height="4" fill="#fff"/><rect x="411" y="9" width="4" height="1" fill="#88a8f0"/><rect x="410" y="6" width="1" height="1" fill="#c8e0ff"/><rect x="401" y="13" width="8" height="8" fill="#2860d8"/><rect x="402" y="16" width="6" height="4" fill="#fff"/><rect x="403" y="17" width="4" height="1" fill="#88a8f0"/><rect x="402" y="14" width="1" height="1" fill="#c8e0ff"/><rect x="409" y="13" width="8" height="8" fill="#2a9a18"/><rect x="410" y="16" width="6" height="4" fill="#fff"/><rect x="411" y="17" width="4" height="1" fill="#90d080"/><rect x="410" y="14" width="1" height="1" fill="#c8e0ff"/></g>
<rect x="426" y="2" width="1" height="21" fill="#a0a0a0"/>
<rect x="431" y="1" width="25" height="22" fill="url(#chk)"/><rect x="431" y="1" width="25" height="1" fill="#a0a0a0"/><rect x="431" y="1" width="1" height="22" fill="#a0a0a0"/><rect x="432" y="22" width="24" height="1" fill="#ffffff"/><rect x="455" y="2" width="1" height="21" fill="#ffffff"/>
<rect x="439" y="8" width="1" height="13" fill="#555"/><rect x="437" y="18" width="13" height="1" fill="#555"/><polygon points="437.4,9.4 439.5,6.9 441.6,9.4" fill="#555" shape-rendering="auto"/><polygon points="448.7,16.6 451,18.5 448.7,20.4" fill="#555" shape-rendering="auto"/>
<g shape-rendering="auto"><polygon points="444.3,9.4 447.8,12.5 444.3,15.6" fill="#70e070" stroke="#109010" stroke-width="0.9"/></g>
<rect x="459" y="1" width="25" height="22" fill="url(#chk)"/><rect x="459" y="1" width="25" height="1" fill="#a0a0a0"/><rect x="459" y="1" width="1" height="22" fill="#a0a0a0"/><rect x="460" y="22" width="24" height="1" fill="#ffffff"/><rect x="483" y="2" width="1" height="21" fill="#ffffff"/>
<rect x="467" y="8" width="1" height="13" fill="#555"/><rect x="465" y="18" width="13" height="1" fill="#555"/><polygon points="465.4,9.4 467.5,6.9 469.6,9.4" fill="#555" shape-rendering="auto"/><polygon points="476.7,16.6 479,18.5 476.7,20.4" fill="#555" shape-rendering="auto"/>
<g shape-rendering="auto">
<rect x="473" y="7" width="1.2" height="10" fill="#1870a8"/>
<path d="M479,12.4 H475" stroke="#d04808" stroke-width="1"/>
<polygon points="474.4,12.4 477.2,10.4 476.6,12.4 477.2,14.4" fill="#e85808"/>
</g>
<rect x="488" y="2" width="1" height="21" fill="#a0a0a0"/>
<g shape-rendering="auto">
<path d="M498.5,5.5 h7.5 l3,3 v9.5 h-10.5 z" fill="#fcfcfc" stroke="#7a7a7a" stroke-width="1"/>
<path d="M506,5.5 v3 h3" fill="#e8e8e8" stroke="#7a7a7a" stroke-width="0.8"/>
<path d="M503,8.5 c-1.6,0 -1.6,1 -1.6,2.5 v4 c0,1.2 -0.4,1.6 -1,1.6" fill="none" stroke="#383020" stroke-width="0.9"/>
<path d="M506,11.3 h4 v3.8 h3.8 v4 h-3.8 v3.8 h-4 v-3.8 h-3.8 v-4 h3.8 z" fill="#2ecc2e" stroke="#0a9a0a" stroke-width="0.9"/>
<path d="M507,12.3 h2 v4 h-2 z M503.2,16.1 h9.6 v1 h-9.6z" fill="#8df08d" opacity="0.7"/>
</g>
<polygon points="519.5,12 525.5,12 522.5,15.2" fill="#000" shape-rendering="auto"/>
<g shape-rendering="auto">
<circle cx="544" cy="12.9" r="6.6" fill="#f8fbff" stroke="#1c74dc" stroke-width="2.8"/>
<circle cx="544" cy="12.9" r="7.8" fill="none" stroke="#0a48a8" stroke-width="0.7"/>
<circle cx="544" cy="12.9" r="5.3" fill="none" stroke="#58a8f8" stroke-width="0.6"/>
<path d="M544,8.8 V13 H546.8" fill="none" stroke="#202020" stroke-width="1.1"/>
<rect x="543.5" y="16.4" width="1.4" height="1" fill="#70b0f8"/>
</g>
<polygon points="558.5,12 564.5,12 561.5,15.2" fill="#000" shape-rendering="auto"/>
<g shape-rendering="auto">
<rect x="575.5" y="6.4" width="15" height="13.4" fill="#fff" stroke="#3a78c8" stroke-width="1.1"/>
<rect x="576" y="6.9" width="14" height="1.8" fill="#4a90e0"/>
<rect x="576" y="13.2" width="14" height="1" fill="#3a78c8"/>
<path d="M577.5,12 h1.8 l2.6,-1.6 h1.6 l1.4,0.8 h1.4 l2,-1.2" fill="none" stroke="#b01808" stroke-width="1.1"/>
<path d="M578.5,17.6 h1.6 l1.6,-0.9 l1.6,0.9 l2.4,-2 l2.2,2.2" fill="none" stroke="#189018" stroke-width="1.1"/>
</g>
<polygon points="597.5,12 603.5,12 600.5,15.2" fill="#000" shape-rendering="auto"/>
<rect x="609" y="0" width="1" height="25" fill="#808080"/><rect x="610" y="0" width="1" height="25" fill="#ffffff"/><rect x="613" y="3" width="3" height="1" fill="#a0a0a0"/><rect x="613" y="5" width="3" height="1" fill="#a0a0a0"/><rect x="613" y="7" width="3" height="1" fill="#a0a0a0"/><rect x="613" y="9" width="3" height="1" fill="#a0a0a0"/><rect x="613" y="11" width="3" height="1" fill="#a0a0a0"/><rect x="613" y="13" width="3" height="1" fill="#a0a0a0"/><rect x="613" y="15" width="3" height="1" fill="#a0a0a0"/><rect x="613" y="17" width="3" height="1" fill="#a0a0a0"/><rect x="613" y="19" width="3" height="1" fill="#a0a0a0"/><rect x="613" y="21" width="3" height="1" fill="#a0a0a0"/>
<rect x="619" y="1" width="25" height="22" fill="url(#chk)"/><rect x="619" y="1" width="25" height="1" fill="#a0a0a0"/><rect x="619" y="1" width="1" height="22" fill="#a0a0a0"/><rect x="620" y="22" width="24" height="1" fill="#ffffff"/><rect x="643" y="2" width="1" height="21" fill="#ffffff"/>
<g shape-rendering="auto"><polygon points="627.2,5.9 627.2,16.9 629.9,14.6 632.2,20.2 634.1,19.3 631.7,13.9 635.2,13.7" fill="#484848"/></g>
<g><rect x="652" y="13" width="6" height="1" fill="#404040"/><rect x="661" y="13" width="6" height="1" fill="#404040"/><rect x="659" y="6" width="1" height="6" fill="#404040"/><rect x="659" y="15" width="1" height="6" fill="#404040"/><rect x="659" y="13" width="1" height="1" fill="#909070"/></g>
<rect x="676" y="2" width="1" height="21" fill="#a0a0a0"/>
<g><rect x="693" y="7" width="1" height="13" fill="#404040"/><rect x="716" y="13" width="12" height="1" fill="#404040"/><g shape-rendering="auto"><line x1="743.7" y1="19.8" x2="756.2" y2="7.6" stroke="#404040" stroke-width="1.1"/><line x1="770" y1="14.6" x2="778" y2="7.4" stroke="#404040" stroke-width="0.9"/><line x1="772.5" y1="17.4" x2="781" y2="9.6" stroke="#404040" stroke-width="0.9"/><line x1="775" y1="19.8" x2="784" y2="11.5" stroke="#404040" stroke-width="0.9"/><path d="M773.5,11 l-1.8,8.5 M776.5,8.8 l-2,9 M779.5,6.5 l-2,9.5 M782,5.5 l-0.8,6.5" stroke="#404040" stroke-width="0.9" fill="none"/><text x="780.6" y="22" font-size="7px" font-weight="bold" fill="#404040">E</text></g><rect x="799" y="6" width="1" height="1" fill="#484848"/><rect x="801" y="6" width="1" height="1" fill="#484848"/><rect x="803" y="6" width="1" height="1" fill="#484848"/><rect x="805" y="6" width="1" height="1" fill="#484848"/><rect x="807" y="6" width="1" height="1" fill="#484848"/><rect x="809" y="6" width="1" height="1" fill="#484848"/><rect x="811" y="6" width="1" height="1" fill="#484848"/><rect x="799" y="9" width="1" height="1" fill="#484848"/><rect x="801" y="9" width="1" height="1" fill="#484848"/><rect x="803" y="9" width="1" height="1" fill="#484848"/><rect x="805" y="9" width="1" height="1" fill="#484848"/><rect x="807" y="9" width="1" height="1" fill="#484848"/><rect x="809" y="9" width="1" height="1" fill="#484848"/><rect x="811" y="9" width="1" height="1" fill="#484848"/><rect x="799" y="13" width="1" height="1" fill="#484848"/><rect x="801" y="13" width="1" height="1" fill="#484848"/><rect x="803" y="13" width="1" height="1" fill="#484848"/><rect x="805" y="13" width="1" height="1" fill="#484848"/><rect x="807" y="13" width="1" height="1" fill="#484848"/><rect x="809" y="13" width="1" height="1" fill="#484848"/><rect x="811" y="13" width="1" height="1" fill="#484848"/><rect x="799" y="17" width="1" height="1" fill="#484848"/><rect x="801" y="17" width="1" height="1" fill="#484848"/><rect x="803" y="17" width="1" height="1" fill="#484848"/><rect x="805" y="17" width="1" height="1" fill="#484848"/><rect x="807" y="17" width="1" height="1" fill="#484848"/><g shape-rendering="auto"><text x="808.6" y="22" font-size="7px" font-weight="bold" fill="#404040">F</text><text x="829.7" y="18" font-size="12.2px" font-weight="bold" fill="#505050" textLength="8" lengthAdjust="spacingAndGlyphs">A</text></g><rect x="857" y="7" width="1" height="1" fill="#484848"/><rect x="859" y="7" width="1" height="1" fill="#484848"/><rect x="861" y="7" width="1" height="1" fill="#484848"/><rect x="863" y="7" width="1" height="1" fill="#484848"/><rect x="865" y="7" width="1" height="1" fill="#484848"/><rect x="867" y="7" width="1" height="1" fill="#484848"/><rect x="857" y="19" width="1" height="1" fill="#484848"/><rect x="859" y="19" width="1" height="1" fill="#484848"/><rect x="861" y="19" width="1" height="1" fill="#484848"/><rect x="863" y="19" width="1" height="1" fill="#484848"/><rect x="865" y="19" width="1" height="1" fill="#484848"/><rect x="867" y="19" width="1" height="1" fill="#484848"/><rect x="856" y="9" width="1" height="1" fill="#484848"/><rect x="868" y="9" width="1" height="1" fill="#484848"/><rect x="856" y="11" width="1" height="1" fill="#484848"/><rect x="868" y="11" width="1" height="1" fill="#484848"/><rect x="856" y="13" width="1" height="1" fill="#484848"/><rect x="868" y="13" width="1" height="1" fill="#484848"/><rect x="856" y="15" width="1" height="1" fill="#484848"/><rect x="868" y="15" width="1" height="1" fill="#484848"/><rect x="856" y="17" width="1" height="1" fill="#484848"/><rect x="868" y="17" width="1" height="1" fill="#484848"/><rect x="855" y="6" width="2" height="1" fill="#484848"/><rect x="858" y="10" width="8" height="1.5" fill="#484848" shape-rendering="auto"/><rect x="861" y="10" width="2" height="8" fill="#484848"/><g shape-rendering="auto"><polygon points="886.3,7 890,10.9 882.8,10.9" fill="#484848"/><polygon points="893.6,19.9 897.2,16 890,16" fill="#484848"/><path d="M885.3,15 L887.8,17 L891.8,11.2" fill="none" stroke="#484848" stroke-width="1.3"/></g></g>
<polygon points="903.5,12 909.5,12 906.5,15.2" fill="#000" shape-rendering="auto"/>
<rect x="915" y="0" width="1" height="25" fill="#808080"/><rect x="916" y="0" width="1" height="25" fill="#ffffff"/><rect x="919" y="3" width="3" height="1" fill="#a0a0a0"/><rect x="919" y="5" width="3" height="1" fill="#a0a0a0"/><rect x="919" y="7" width="3" height="1" fill="#a0a0a0"/><rect x="919" y="9" width="3" height="1" fill="#a0a0a0"/><rect x="919" y="11" width="3" height="1" fill="#a0a0a0"/><rect x="919" y="13" width="3" height="1" fill="#a0a0a0"/><rect x="919" y="15" width="3" height="1" fill="#a0a0a0"/><rect x="919" y="17" width="3" height="1" fill="#a0a0a0"/><rect x="919" y="19" width="3" height="1" fill="#a0a0a0"/><rect x="919" y="21" width="3" height="1" fill="#a0a0a0"/>
<g font-size="9.2px">
<text x="930.5" y="16.7" fill="#3c3c3c">M1</text>
<text x="958.5" y="16.7" fill="#3c3c3c">M5</text>
<text x="984.5" y="16.7" fill="#3c3c3c">M15</text>
<text x="1012.5" y="16.7" fill="#3c3c3c">M30</text>
<text x="1043.5" y="16.7" fill="#3c3c3c">H1</text>
<rect x="1065" y="1" width="25" height="22" fill="url(#chk)"/><rect x="1065" y="1" width="25" height="1" fill="#a0a0a0"/><rect x="1065" y="1" width="1" height="22" fill="#a0a0a0"/><rect x="1066" y="22" width="24" height="1" fill="#ffffff"/><rect x="1089" y="2" width="1" height="21" fill="#ffffff"/>
<text x="1070.5" y="16.7" fill="#3c3c3c">H4</text>
<text x="1099.3" y="16.7" fill="#3c3c3c">D1</text>
<text x="1127" y="16.7" fill="#3c3c3c">W1</text>
<text x="1153.5" y="16.7" fill="#3c3c3c">MN</text>
</g>
<rect x="1176" y="0" width="1" height="25" fill="#808080"/><rect x="1177" y="0" width="1" height="25" fill="#ffffff"/>
<g shape-rendering="auto">
<circle cx="1646.5" cy="10.4" r="3.9" fill="#f4f4fc" stroke="#2458d0" stroke-width="1.3"/>
<line x1="1643.6" y1="13.4" x2="1639.4" y2="17.8" stroke="#2458d0" stroke-width="2.1" stroke-linecap="round"/>
</g>
<g shape-rendering="auto">
<path d="M1664,15.5 a5.5,5 0 0 1 5.5,-5.2 h3 a5,5 0 0 1 0,9.4 h-4.2 l-2.2,2 l0.3,-2.2 a5,5 0 0 1 -2.4,-4 z" fill="#e4e4ec" stroke="#a8a8a8" stroke-width="0.9"/>
<defs><linearGradient id="gb" x1="0" y1="0" x2="0" y2="1"><stop offset="0" stop-color="#e9583c"/><stop offset="0.55" stop-color="#dd3a20"/><stop offset="1" stop-color="#cc2c14"/></linearGradient></defs>
<circle cx="1677.5" cy="10.4" r="8.2" fill="url(#gb)"/>
<text x="1673" y="15" font-size="12.2px" fill="#fff" stroke="#fff" stroke-width="0.28" font-family="DejaVu Sans, sans-serif">1</text>
</g>
</svg>
</body>
</html>
